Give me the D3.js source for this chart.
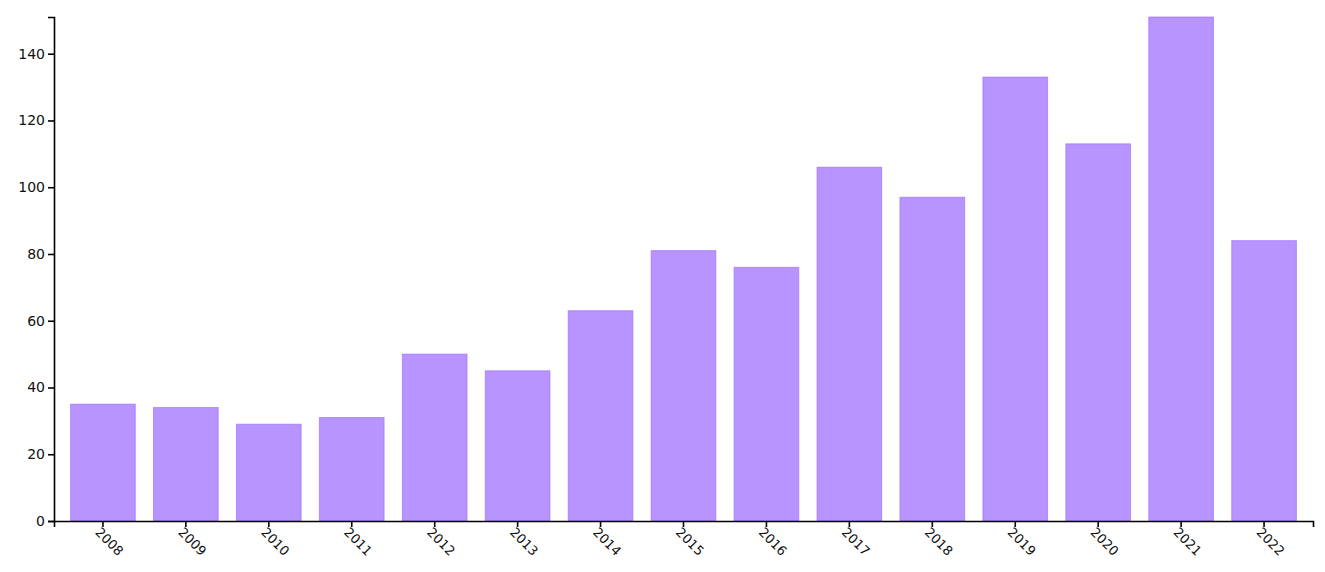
<!DOCTYPE html>
<html><head><meta charset="utf-8">
<script src="https://cdn.jsdelivr.net/npm/d3@7"></script>
<style>body{margin:0;background:#fff}svg{display:block}</style>
</head><body>
<svg id="c" width="1325" height="572"></svg>
<script>
const years = ["2008","2009","2010","2011","2012","2013","2014","2015","2016","2017","2018","2019","2020","2021","2022"];
const counts = [35,34,29,31,50,45,63,81,76,106,97,133,113,151,84];
const yTicks = [0,20,40,60,80,100,120,140];

const svg = d3.select("#c");
const m = {l:54, r:12, t:17, b:51};
const W = 1325, H = 572;
const x = d3.scaleBand().domain(years).range([m.l, W-m.r]).paddingInner(0.22).paddingOuter(0.2);
const y = d3.scaleLinear().domain([0, d3.max(counts)]).range([H-m.b, m.t]);

svg.append("g").selectAll("rect").data(years).join("rect")
  .attr("x", d=>x(d)).attr("width", x.bandwidth())
  .attr("y", (d,i)=>y(counts[i])).attr("height", (d,i)=>y(0)-y(counts[i]))
  .attr("fill", "rgba(153,102,255,0.7)")
  .attr("stroke", "rgba(153,102,255,0.6)").attr("stroke-width", 1);

const gx = svg.append("g").attr("transform", `translate(0,${H-m.b})`)
  .call(d3.axisBottom(x).tickSizeOuter(6));
gx.selectAll("text").attr("transform","rotate(45)").attr("text-anchor","start")
  .attr("dx","0.2em").attr("dy","0.5em").attr("x",0).attr("y",8)
  .style("font-size","13px");
const gy = svg.append("g").attr("transform", `translate(${m.l},0)`)
  .call(d3.axisLeft(y).tickValues(yTicks).tickSizeOuter(6));
gy.selectAll("text").style("font-size","14px");
svg.selectAll(".domain, .tick line").attr("stroke","#000").attr("stroke-width",1.6);
svg.selectAll("text").attr("font-family","'DejaVu Sans', sans-serif").attr("fill","#111");
</script>
</body></html>
